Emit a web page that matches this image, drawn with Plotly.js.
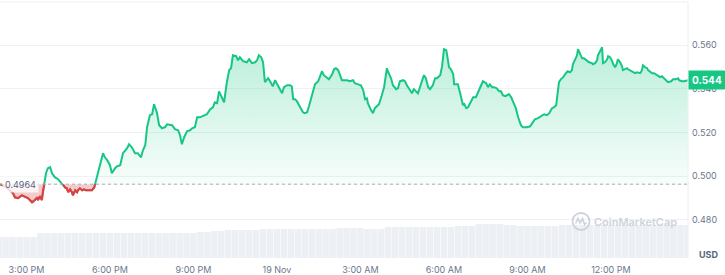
<!DOCTYPE html>
<html><head><meta charset="utf-8">
<script src="https://cdn.plot.ly/plotly-3.0.1.min.js"></script>
<style>html,body{margin:0;padding:0;background:#fff}#chart{width:725px;height:275px}</style>
</head><body><div id="chart"></div>
<script>
// minutes after 2024-11-18 14:00
const minutes = [3,14,24,31,35,42,50,57,63,72,
78,83,85,89,93,96,102,106,111,115,
121,128,134,139,143,147,150,154,158,160,
165,169,171,175,180,184,188,195,201,206,
210,214,221,225,229,234,240,244,251,255,
262,268,277,281,287,294,300,307,311,316,
320,326,331,335,341,346,352,359,363,374,
380,387,391,395,400,406,413,417,423,428,
434,441,449,456,462,466,471,475,482,486,
492,497,501,505,512,516,520,527,535,540,
546,553,557,561,566,570,574,581,585,591,
596,600,604,611,615,622,628,632,635,639,
643,650,656,660,665,669,676,682,689,693,
697,701,708,712,719,723,727,732,736,740,
751,757,764,768,775,781,786,790,794,796,
803,807,811,816,820,826,831,837,839,846,
850,857,861,865,872,876,880,887,891,895,
902,904,911,915,917,921,926,930,936,941,
945,952,956,960,965,967,971,975,980,982,
988,990,995,1001,1003,1008,1012,1018,1023,1029,
1034,1040,1044,1051,1055,1059,1064,1068,1074,1079,
1083,1087,1092,1096,1100,1105,1109,1115,1120,1126,
1130,1135,1139,1146,1152,1156,1163,1171,1176,1182,
1187,1193,1197,1202,1204,1208,1212,1217,1223,1227,
1232,1236,1238,1243,1247,1249,1253,1258,1262,1268,
1273,1279,1281,1286,1290,1292,1297,1301,1303,1307,
1312,1314,1318,1322,1325,1329,1333,1335,1340,1344,
1346,1350,1355,1357,1361,1368,1372,1376,1383,1387,
1389,1394,1398,1400,1404,1409,1413,1419,1426,1430,
1432,1439,1443,1450,1454,1460,1465,1467,1473,1478,1486];

const price = [.4964,.4954,.4936,.4922,.4904,.4900,.4913,.4904,.4900,.4881,
.4891,.4904,.4891,.4909,.4891,.4936,.5014,.5037,.5042,.5014,
.4996,.4987,.4973,.4963,.4949,.4945,.4927,.4940,.4927,.4913,
.4936,.4927,.4936,.4945,.4936,.4940,.4936,.4936,.4936,.4949,
.4982,.5028,.5083,.5106,.5087,.5074,.5051,.5014,.5037,.5046,
.5051,.5106,.5129,.5147,.5133,.5106,.5106,.5087,.5119,.5142,
.5225,.5280,.5284,.5330,.5293,.5234,.5220,.5225,.5238,.5234,
.5216,.5211,.5188,.5147,.5179,.5206,.5211,.5220,.5225,.5270,
.5270,.5275,.5284,.5307,.5316,.5339,.5335,.5389,.5353,.5339,
.5431,.5486,.5495,.5554,.5550,.5531,.5545,.5527,.5522,.5536,
.5518,.5522,.5531,.5554,.5545,.5522,.5431,.5449,.5435,.5412,
.5440,.5426,.5408,.5380,.5408,.5417,.5417,.5412,.5353,.5353,
.5344,.5316,.5293,.5289,.5293,.5321,.5376,.5421,.5435,.5454,
.5481,.5463,.5449,.5444,.5467,.5490,.5495,.5486,.5463,.5440,
.5440,.5435,.5440,.5426,.5421,.5417,.5394,.5353,.5357,.5335,
.5302,.5289,.5312,.5325,.5330,.5371,.5408,.5495,.5481,.5449,
.5417,.5399,.5403,.5435,.5440,.5435,.5417,.5394,.5380,.5399,
.5385,.5380,.5426,.5454,.5463,.5449,.5408,.5399,.5417,.5449,
.5449,.5463,.5504,.5582,.5577,.5554,.5499,.5490,.5467,.5421,
.5421,.5421,.5380,.5325,.5335,.5312,.5316,.5339,.5362,.5362,
.5389,.5417,.5435,.5426,.5408,.5421,.5408,.5408,.5403,.5389,
.5389,.5371,.5367,.5371,.5376,.5362,.5339,.5312,.5270,.5234,
.5225,.5225,.5225,.5229,.5248,.5261,.5266,.5275,.5284,.5280,
.5289,.5312,.5316,.5325,.5362,.5431,.5444,.5454,.5472,.5481,
.5476,.5486,.5513,.5540,.5554,.5582,.5563,.5540,.5540,.5531,
.5522,.5518,.5513,.5518,.5531,.5554,.5573,.5591,.5518,.5522,
.5536,.5550,.5545,.5531,.5513,.5499,.5518,.5536,.5522,.5504,
.5486,.5490,.5495,.5490,.5486,.5476,.5472,.5476,.5472,.5486,
.5508,.5499,.5495,.5486,.5481,.5472,.5472,.5463,.5454,.5458,
.5454,.5440,.5431,.5435,.5444,.5444,.5449,.5440,.5435,.5435,.5440];

const openPrice = 0.4964;

// 15-minute volume bars, starting 2024-11-18 14:00 (millions USD)
const volume = [82,82,82,82,82,82,
98,98,98,98,98,98,98,98,98,98,98,98,98,98,98,98,98,98,98,98,98,98,98,
102,102,105,105,
109,109,109,109,109,
113,113,113,113,113,113,113,113,113,113,113,
117,117,117,117,
113,113,113,
121,121,121,121,121,121,121,121,121,121,
125,125,125,
133,133,133,133,
129,129,
125,125,125,125,125,125,
129,129,129,129,129,129,129,129,129,129,129,129,129,129,129,129,129,129,129];

const tickTimes = ['2024-11-18 15:00','2024-11-18 18:00','2024-11-18 21:00','2024-11-19 00:00',
  '2024-11-19 03:00','2024-11-19 06:00','2024-11-19 09:00','2024-11-19 12:00'];
const tickLabels = ['3:00 PM','6:00 PM','9:00 PM','19 Nov','3:00 AM','6:00 AM','9:00 AM','12:00 PM'];
const yTicks = [0.48, 0.50, 0.52, 0.54, 0.56];

const T0 = Date.UTC(2024, 10, 18, 14, 0, 0);
function toTime(m) {
  return new Date(T0 + m * 60000).toISOString().slice(0, 19).replace('T', ' ');
}
const times = minutes.map(toTime);
const volTimes = volume.map((v, i) => toTime(i * 15));
const ends = [times[0], times[times.length - 1]];

const lo = 0.4626, hi = 0.5798;
const b = (openPrice - lo) / (hi - lo);
const GREEN = '#16c784', RED = '#ea3943';
const tickFont = {family: 'Inter', size: 9, color: '#6b778c'};

const traces = [
  {x: ends, y: [openPrice, openPrice], mode: 'lines',
   line: {width: 0, color: 'rgba(0,0,0,0)'}, hoverinfo: 'skip', showlegend: false},
  {x: times, y: price, mode: 'lines', fill: 'tonexty',
   line: {color: GREEN, width: 2}, showlegend: false,
   fillgradient: {type: 'vertical', start: openPrice, stop: hi,
     colorscale: [[0, 'rgba(22,199,132,0.03)'], [1, 'rgba(22,199,132,0.38)']]}},
  {x: ends, y: [openPrice, openPrice], mode: 'lines', yaxis: 'y2',
   line: {width: 0, color: 'rgba(0,0,0,0)'}, hoverinfo: 'skip', showlegend: false},
  {x: times, y: price, mode: 'lines', yaxis: 'y2', fill: 'tonexty',
   fillcolor: 'rgba(234,57,67,0.26)',
   line: {color: RED, width: 2}, showlegend: false},
  {x: volTimes, y: volume, type: 'bar', yaxis: 'y3',
   marker: {color: '#eceff3', line: {width: 0}}, showlegend: false}
];

const layout = {
  width: 725, height: 275,
  margin: {l: 0, r: 37, t: 2, b: 17},
  paper_bgcolor: '#ffffff', plot_bgcolor: 'rgba(0,0,0,0)',
  showlegend: false, hovermode: false, bargap: 0.07,
  xaxis: {type: 'date', range: [toTime(2.87), toTime(1486.2)], tickvals: tickTimes, ticktext: tickLabels,
    showgrid: false, zeroline: false, showline: false, ticks: '', tickfont: tickFont,
    ticklabelstandoff: 5, automargin: false, fixedrange: true},
  yaxis: {range: [lo, hi], side: 'right', tickvals: yTicks, ticktext: yTicks.map(v => v.toFixed(3)),
    gridcolor: '#eff1f4', gridwidth: 1, zeroline: false, showline: false, ticks: '',
    ticklabelstandoff: 3, tickfont: tickFont, automargin: false, fixedrange: true},
  yaxis2: {domain: [0, b], range: [lo, openPrice], visible: false, anchor: 'x', fixedrange: true},
  yaxis3: {domain: [0, 0.2], anchor: 'x', range: [0, 200], visible: false, fixedrange: true},
  shapes: [
    {type: 'line', xref: 'paper', yref: 'y', x0: 0, x1: 1, y0: openPrice, y1: openPrice,
     line: {color: '#a3abb8', width: 1, dash: 'dot'}},
    {type: 'line', xref: 'paper', yref: 'paper', x0: 0, x1: 1, y0: 1, y1: 1,
     line: {color: '#eff1f4', width: 1}},
    {type: 'line', xref: 'paper', yref: 'paper', x0: 1, x1: 1, y0: 0, y1: 1,
     line: {color: '#eceef2', width: 1}},
    {type: 'circle', xref: 'paper', yref: 'paper', xsizemode: 'pixel', ysizemode: 'pixel',
     xanchor: 0.8445, yanchor: 0.1426, x0: -8.5, x1: 8.5, y0: -8.5, y1: 8.5,
     line: {color: '#cdd3dc', width: 1.8}},
    {type: 'path', xref: 'paper', yref: 'paper', xsizemode: 'pixel', ysizemode: 'pixel',
     xanchor: 0.8445, yanchor: 0.1426,
     path: 'M -5.5,-2 L -3,3 L -1,-1.5 L 1.5,3 L 3.5,-3 L 5.5,-1',
     line: {color: '#cdd3dc', width: 1.6}}
  ],
  annotations: [
    {xref: 'paper', yref: 'y', x: 0, y: openPrice, xanchor: 'left', yanchor: 'middle', xshift: 2,
     text: openPrice.toFixed(4), showarrow: false, bgcolor: 'rgba(255,255,255,0.8)', borderpad: 2,
     font: {family: 'Inter', size: 9, color: '#58667e'}},
    {xref: 'paper', yref: 'y', x: 1, y: price[price.length - 1], xanchor: 'left', yanchor: 'middle',
     text: price[price.length - 1].toFixed(3), showarrow: false, bgcolor: GREEN, borderpad: 3,
     font: {family: 'Inter', size: 10, color: '#ffffff', weight: 700}},
    {xref: 'paper', yref: 'paper', x: 1, y: 0, xanchor: 'left', yanchor: 'bottom', xshift: 9, yshift: -4,
     text: 'USD', showarrow: false, font: {family: 'Inter', size: 9, color: '#58667e', weight: 700}},
    {xref: 'paper', yref: 'paper', x: 0.9244, y: 0.1406, xanchor: 'center', yanchor: 'middle',
     text: 'CoinMarketCap', showarrow: false, font: {family: 'Inter', size: 11, color: '#cdd3dc', weight: 600}}
  ]
};

Plotly.newPlot('chart', traces, layout, {displayModeBar: false, staticPlot: true});
</script></body></html>
